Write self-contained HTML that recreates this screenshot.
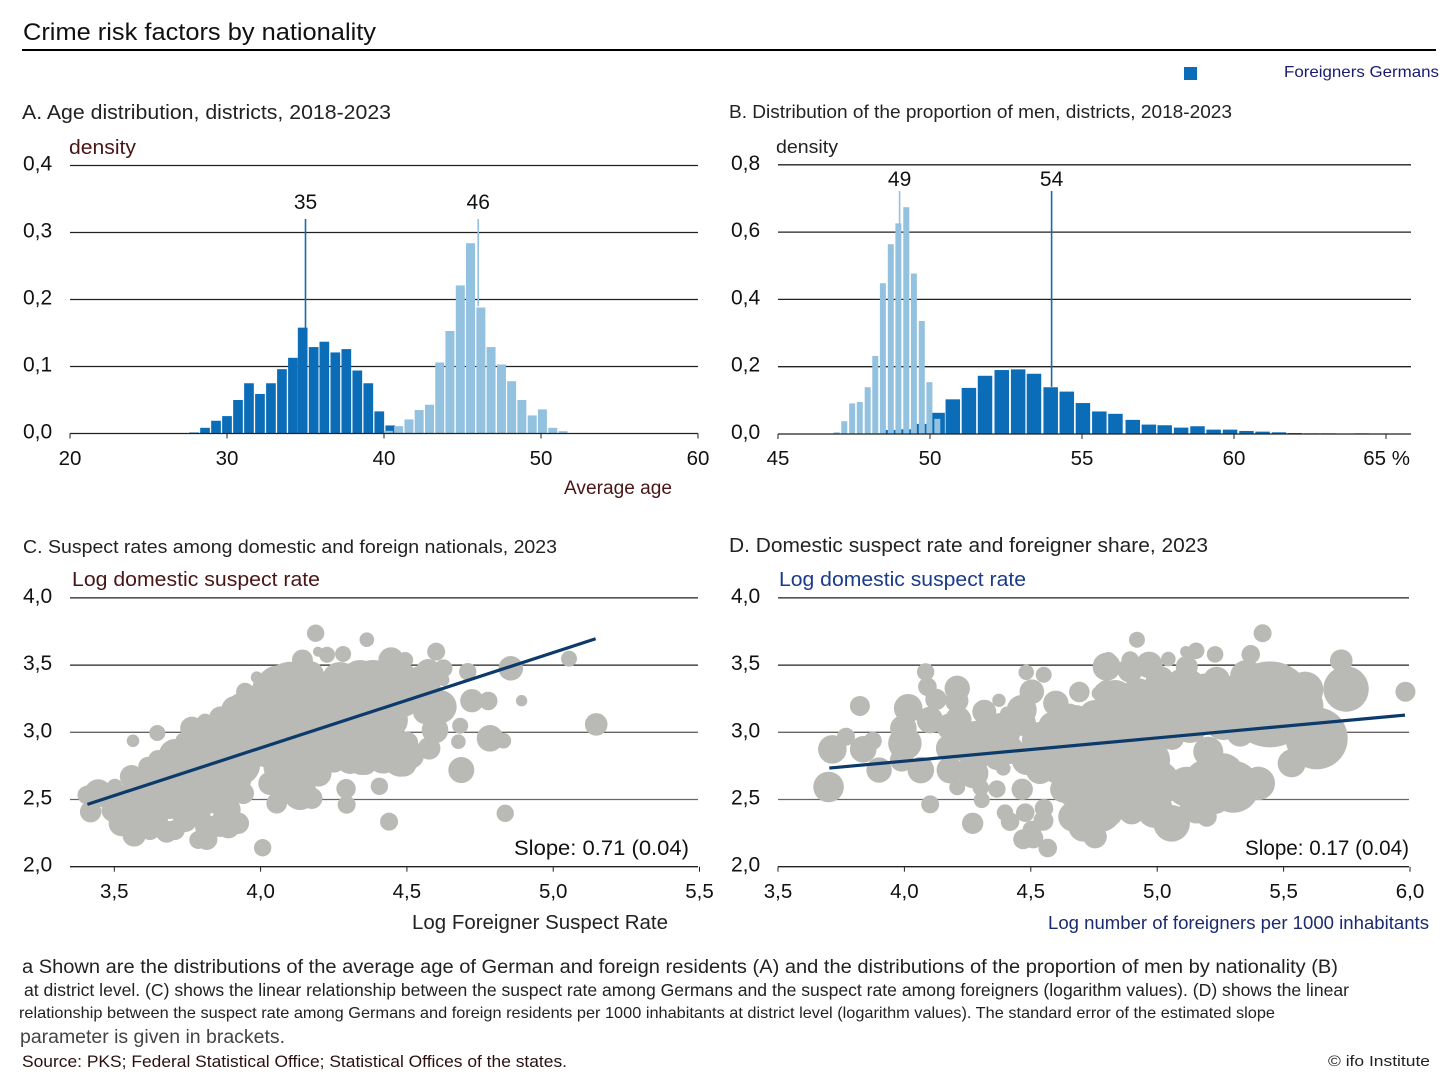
<!DOCTYPE html>
<html lang="en">
<head>
<meta charset="utf-8">
<title>Crime risk factors by nationality</title>
<style>
html,body{margin:0;padding:0;background:#fff}
svg{display:block}
text{font-family:"Liberation Sans",sans-serif}
</style>
</head>
<body>
<svg id="chart" xmlns="http://www.w3.org/2000/svg" width="1456" height="1084" viewBox="0 0 1456 1084">
<rect x="0" y="0" width="1456" height="1084" fill="#fff"/>
<text x="23" y="40" font-size="24" fill="#111" textLength="353" lengthAdjust="spacingAndGlyphs">Crime risk factors by nationality</text>
<rect x="22" y="49" width="1414" height="2" fill="#000"/>
<rect x="1184" y="67" width="13" height="13" fill="#0b6db8"/>
<text x="1284" y="77" font-size="16" fill="#1b1b6e" textLength="155" lengthAdjust="spacingAndGlyphs">Foreigners Germans</text>

<text x="22" y="119" font-size="20" fill="#222" textLength="369" lengthAdjust="spacingAndGlyphs">A. Age distribution, districts, 2018-2023</text>
<text x="69" y="154" font-size="20" fill="#4a1515" textLength="67" lengthAdjust="spacingAndGlyphs">density</text>
<text x="564" y="494" font-size="19" fill="#4a1515" textLength="108" lengthAdjust="spacingAndGlyphs">Average age</text>

<text x="729" y="118" font-size="18.5" fill="#222" textLength="503" lengthAdjust="spacingAndGlyphs">B. Distribution of the proportion of men, districts, 2018-2023</text>
<text x="776" y="153" font-size="18" fill="#222" textLength="62" lengthAdjust="spacingAndGlyphs">density</text>

<text x="23" y="553" font-size="18.5" fill="#222" textLength="534" lengthAdjust="spacingAndGlyphs">C. Suspect rates among domestic and foreign nationals, 2023</text>
<text x="72" y="586" font-size="20" fill="#4a1515" textLength="248" lengthAdjust="spacingAndGlyphs">Log domestic suspect rate</text>
<text x="412" y="929" font-size="20" fill="#222" textLength="256" lengthAdjust="spacingAndGlyphs">Log Foreigner Suspect Rate</text>

<text x="729" y="552" font-size="20" fill="#222" textLength="479" lengthAdjust="spacingAndGlyphs">D. Domestic suspect rate and foreigner share, 2023</text>
<text x="779" y="586" font-size="20" fill="#1a3a8a" textLength="247" lengthAdjust="spacingAndGlyphs">Log domestic suspect rate</text>
<text x="1048" y="929" font-size="18" fill="#1b2a70" textLength="381" lengthAdjust="spacingAndGlyphs">Log number of foreigners per 1000 inhabitants</text>

<g id="plots"></g>

<text x="514" y="855" font-size="21" fill="#111" textLength="175" lengthAdjust="spacingAndGlyphs">Slope: 0.71 (0.04)</text>
<text x="1245" y="855" font-size="21" fill="#111" textLength="164" lengthAdjust="spacingAndGlyphs">Slope: 0.17 (0.04)</text>

<text x="22" y="973" font-size="19" fill="#222" textLength="1316" lengthAdjust="spacingAndGlyphs">a Shown are the distributions of the average age of German and foreign residents (A) and the distributions of the proportion of men by nationality (B)</text>
<text x="24" y="996" font-size="17.5" fill="#222" textLength="1325" lengthAdjust="spacingAndGlyphs">at district level. (C) shows the linear relationship between the suspect rate among Germans and the suspect rate among foreigners (logarithm values). (D) shows the linear</text>
<text x="19" y="1018" font-size="16" fill="#222" textLength="1256" lengthAdjust="spacingAndGlyphs">relationship between the suspect rate among Germans and foreign residents per 1000 inhabitants at district level (logarithm values). The standard error of the estimated slope</text>
<text x="20" y="1043" font-size="19" fill="#444" textLength="265" lengthAdjust="spacingAndGlyphs">parameter is given in brackets.</text>
<text x="22" y="1067" font-size="17" fill="#2a1010" textLength="545" lengthAdjust="spacingAndGlyphs">Source: PKS; Federal Statistical Office; Statistical Offices of the states.</text>
<text x="1328" y="1066" font-size="15" fill="#222" textLength="102" lengthAdjust="spacingAndGlyphs">©  ifo Institute</text>
</svg>

<script>
// Panel A: age distribution
const ageForeignBins = [27.9,28.6,29.3,30,30.7,31.4,32.1,32.8,33.5,34.2,34.82,35.52,36.2,36.9,37.6,38.3,39,39.7,40.4];
const ageForeignDensity = [0.0015,0.0085,0.019,0.026,0.05,0.075,0.059,0.075,0.096,0.113,0.158,0.129,0.137,0.121,0.126,0.094,0.075,0.033,0.012];
const ageGermanBins = [40.28,40.93,41.59,42.24,42.9,43.55,44.2,44.86,45.51,46.17,46.82,47.48,48.13,48.78,49.44,50.09,50.75,51.4];
const ageGermanDensity = [0.004,0.011,0.021,0.035,0.043,0.106,0.153,0.221,0.284,0.188,0.129,0.103,0.078,0.05,0.027,0.036,0.0085,0.0035];
const ageXTicks = [20,30,40,50,60];
const ageYTicks = [0,0.1,0.2,0.3,0.4];
const ageMedians = [35,46];

// Panel B: proportion of men
const menForeignBins = [48.13,48.66,49.2,49.73,50.25,50.75,51.28,51.81,52.36,52.9,53.42,53.97,54.5,55.03,55.57,56.1,56.67,57.2,57.72,58.26,58.8,59.33,59.87,60.41,60.94,61.48,62,62.55,63.1,63.6,64.2];
const menForeignDensity = [0.002,0.012,0.014,0.03,0.063,0.103,0.137,0.173,0.19,0.192,0.179,0.139,0.126,0.092,0.067,0.06,0.042,0.028,0.026,0.019,0.023,0.013,0.013,0.009,0.007,0.005,0.003,0.002,0.002,0.001,0.002];
const menGermanBins = [46.93,47.18,47.44,47.69,47.95,48.2,48.45,48.71,48.96,49.22,49.47,49.73,49.98,50.24];
const menGermanDensity = [0.005,0.038,0.091,0.095,0.139,0.232,0.448,0.564,0.626,0.674,0.477,0.336,0.154,0.045];
const menXTicks = [45,50,55,60,65];
const menYTicks = [0,0.2,0.4,0.6,0.8];
const menMedians = [54,49];

// Panel C: domestic vs foreigner suspect rate
const cForeignRate = [
4.188,4.363,4.196,4.227,4.282,4.143,4.446,4.494,3.647,3.564,
3.987,3.924,3.947,3.864,3.81,3.765,3.736,3.65,3.616,3.559,
3.502,3.445,3.406,3.419,3.497,3.525,3.568,3.599,3.679,3.707,
3.645,3.787,3.816,3.816,3.89,3.924,3.884,3.941,3.747,3.827,
3.667,3.599,3.725,3.838,3.782,3.884,3.953,4.055,4.007,4.032,
4.135,4.175,4.249,4.197,4.078,4.146,4.292,4.294,4.406,4.439,
4.346,4.442,4.488,4.101,4.055,4.169,4.021,4.123,4.306,4.351,
4.442,4.26,4.408,4.488,3.964,4.6,4.573,4.625,4.708,4.855,
5.054,4.892,5.147,4.722,4.778,4.682,4.676,4.784,4.83,4.686,
4.576,4.596,4.562,4.613,4.625,4.477,4.357,4.329,4.419,4.499,
4.385,4.306,4.385,4.511,4.836,4.237,3.964,3.52,
3.485,3.537,3.622,3.707,3.673,3.776,3.878,3.776,3.69,3.622,
3.742,3.861,3.913,3.844,3.93,4.015,3.793,3.93,4.066,4.135,
4.237,4.066,4.203,4.135,4.289,4.323,4.442,4.34,4.477,4.562,
4.271,4.169,4.032,4.545,4.408,4.511,4.306,3.998,3.981,3.913,
4.083,4.135];
const cDomesticRate = [
3.737,3.689,3.6,3.577,3.583,3.538,3.538,3.538,2.995,2.937,
3.409,3.228,3.302,3.104,3.079,3.03,2.937,2.794,2.744,2.67,
2.595,2.546,2.533,2.409,2.422,2.323,2.236,2.372,2.26,2.273,
2.372,2.199,2.204,2.298,2.298,2.323,2.422,2.546,2.521,2.546,
2.571,2.496,2.744,2.744,2.918,2.943,2.818,2.472,2.141,2.62,
2.546,2.509,2.794,2.695,2.744,2.794,2.58,2.461,2.598,2.335,
2.794,2.794,2.769,3.339,3.166,3.166,3.042,2.967,3.389,3.265,
3.339,3.166,3.116,3.24,3.19,3.6,3.451,3.476,3.451,3.476,
3.548,3.235,3.059,3.235,3.233,3.049,2.93,2.955,2.937,2.719,
2.881,3.017,3.151,3.19,3.389,2.794,2.769,2.818,2.818,2.918,
2.967,3.017,3.315,3.339,2.397,2.98,3.017,2.474,
2.533,2.496,2.608,2.831,2.682,2.682,2.645,2.422,2.459,2.273,
2.347,2.31,2.645,2.905,3.017,2.905,2.794,2.757,3.315,3.24,
3.24,2.905,2.905,2.682,2.905,3.091,3.091,3.389,3.389,3.315,
3.389,3.426,3.315,3.389,2.905,2.831,2.794,3.24,3.091,3.166,
2.571,2.608];
const cPopulation = [
210,148,70,178,178,306,448,178,178,110,
100,178,225,400,178,380,178,278,278,380,
178,545,240,318,400,470,380,625,336,278,
380,225,318,380,380,318,545,318,775,1111,
775,775,775,1111,775,775,775,295,210,380,
775,318,448,492,1111,1111,262,225,210,225,
625,448,492,1736,1980,1980,1111,1470,775,1111,
1111,1111,775,775,278,225,448,225,210,420,
178,90,355,380,240,178,148,492,165,470,
355,492,400,775,100,775,380,240,775,380,
1111,775,2500,775,210,1111,1111,400,
278,625,545,712,545,1111,1111,712,545,278,
400,400,712,1345,1345,1345,900,1111,1736,2500,
2180,1736,1736,900,900,1736,900,1111,900,712,
900,545,900,545,1345,545,545,712,1111,545,
278,545];
const cFitX = [3.408,5.145];
const cFitY = [2.464,3.696];
const cXTicks = [3.5,4,4.5,5,5.5];
const rateYTicks = [2,2.5,3,3.5,4];

// Panel D: domestic suspect rate vs foreigners per 1000
const dForeignShare = [
4.084,4.091,4.125,4.209,4.207,4.374,4.316,4.482,4.551,4.504,
4.599,4.692,3.824,4.015,4.101,3.996,4.002,3.989,3.769,3.715,
3.837,3.875,3.9,3.7,4.065,4.102,4.209,4.18,4.273,4.18,
4.18,4.213,4.286,4.326,4.405,4.464,4.405,4.365,4.391,4.484,
4.366,4.302,4.306,4.466,4.27,4.398,4.418,4.478,4.552,4.55,
4.504,4.47,4.51,4.567,4.629,4.668,4.754,4.708,4.603,4.589,
4.754,4.8,4.794,4.761,4.708,4.469,4.655,4.92,5.417,4.807,
4.781,4.893,4.968,4.893,5.044,5.113,5.154,5.229,5.37,5.117,
5.042,4.8,4.767,4.925,5.728,5.747,5.982,5.446,5.585,5.631,
5.532,5.301,5.4,5.262,5.202,5.196,5.156,5.057,5.077,4.899,
4.813,4.761,4.866,4.998,5.117,4.932,4.8,5.064,5.196,5.262,
5.328,5.059,5.235,5.354,5.552,4.813,4.635,
4.24,4.339,4.418,4.536,4.536,4.675,4.734,4.675,4.774,4.893,
4.972,4.853,4.893,5.011,5.11,5.13,5.288,5.367,5.189,5.229,
4.991,4.734,5.011,4.833,4.378,4.279,4.616,4.734];
const dDomesticRate = [
3.449,3.339,3.245,3.327,3.235,3.238,3.153,3.446,3.428,3.302,
3.216,3.3,3.196,3.179,3.091,3.03,2.918,2.794,2.967,2.873,
2.873,2.937,2.719,2.593,2.719,2.464,2.591,2.719,2.695,2.881,
3.042,3.091,2.967,3.017,2.992,3.166,3.141,2.806,2.732,2.794,
2.578,2.588,2.496,2.576,2.323,2.402,2.335,2.402,2.434,2.342,
2.273,2.204,2.211,2.139,2.576,2.372,2.223,2.298,2.744,3.042,
3.116,3.488,3.29,2.62,2.868,3.069,3.144,3.689,3.737,3.538,
3.463,3.538,3.501,3.463,3.545,3.6,3.607,3.58,3.58,3.488,
3.394,3.315,3.29,3.265,3.533,3.322,3.302,3.208,3.315,2.955,
2.769,2.595,2.62,2.695,2.856,2.372,2.446,2.323,2.298,2.409,
2.397,2.223,2.67,2.62,2.595,2.967,3.091,3.116,3.24,3.091,
2.992,2.958,3.389,3.414,3.19,2.794,2.905,
2.905,2.905,2.868,2.943,2.719,3.054,2.719,2.571,2.422,2.571,
2.794,2.905,3.166,3.24,3.315,3.054,3.24,3.129,2.645,2.496,
2.422,2.496,3.389,3.24,3.054,2.831,2.98,2.905];
const dPopulation = [
210,240,318,448,380,125,400,165,178,420,
448,295,278,568,492,492,775,380,225,568,
492,225,448,650,492,225,178,492,625,545,
492,492,712,380,492,625,125,380,148,625,
210,190,178,318,318,190,240,240,240,278,
240,278,278,240,492,625,380,625,775,625,
775,545,380,1111,1111,470,240,178,225,178,
148,210,492,448,148,90,190,190,240,336,
78,278,125,930,355,1430,278,5140,930,2670,
545,1880,775,1111,625,278,775,930,380,448,
448,278,1510,1510,1111,2500,1510,1980,1980,1111,
492,400,492,775,1980,1736,625,
712,545,545,900,545,1111,1345,900,1345,1736,
1111,1736,1345,1736,1345,900,1600,1736,1111,545,
900,900,545,1111,400,712,712,900];
const dFitX = [3.703,5.98];
const dFitY = [2.734,3.128];
const dXTicks = [3.5,4,4.5,5,5.5,6];

// Axis functions
const ageX = v => 70 + (v - 20) * 15.7;
const ageY = v => 433.5 - v * 670;
const menX = v => 778 + (v - 45) * 30.4;
const menY = v => 434 - v * 336.5;
const cX = v => 114.3 + (v - 3.5) * 292.6;
const dX = v => 778 + (v - 3.5) * 252.8;
const rateY = v => 866.7 - (v - 2) * 134.4;
const popR = p => Math.sqrt(p) * 0.6;
const comma = v => v.toFixed(1).replace('.', ',');

const DARK = '#0b6db8', LIGHT = '#93c1e0', GREY = '#b9b9b5', NAVY = '#0b3a6b';
const NS = 'http://www.w3.org/2000/svg';
const root = document.getElementById('plots');
function mk(tag, attrs, txt) {
  const el = document.createElementNS(NS, tag);
  for (const k in attrs) el.setAttribute(k, attrs[k]);
  if (txt !== undefined) el.textContent = txt;
  root.appendChild(el);
  return el;
}
function gridline(y, x1, x2, color) {
  const el = mk('line', {x1: x1, x2: x2, y1: y, y2: y, stroke: color, 'stroke-width': 1.3});
  
  
}
function xTick(x, y) {
  const el = mk('line', {x1: x, x2: x, y1: y, y2: y + 5, stroke: '#222', 'stroke-width': 1});
  
  
}
function xLabel(x, y, s) {
  const el = mk('text', {x: x, y: y, 'text-anchor': 'middle', 'font-size': 20.5, fill: '#111'}, s);
  
  
}
function yLabel(x, y, s) {
  const el = mk('text', {x: x, y: y, 'font-size': 21, fill: '#111'}, s);
  
  
}
function bars(bins, vals, sx, sy, w, color, name) {
  bins.forEach((b, i) => {
    const x0 = sx(b) - w / 2, y0 = sy(vals[i]);
    const el = mk('rect', {x: x0, y: y0, width: w, height: sy(0) - y0, fill: color});
    
    
  });
}
function median(v, sx, top, barBottom, color, labelY) {
  const el = mk('line', {x1: sx(v), x2: sx(v), y1: top, y2: barBottom, stroke: color, 'stroke-width': 1.6});
  
  
  const t = mk('text', {x: sx(v), y: labelY, 'text-anchor': 'middle', 'font-size': 21, fill: '#111'}, String(v));
  
  
}
function scatter(xs, ys, pops, sx, name) {
  xs.forEach((v, i) => {
    const el = mk('circle', {cx: sx(v), cy: rateY(ys[i]), r: popR(pops[i]), fill: GREY});
    
    
  });
}
function fit(xs, ys, sx, name) {
  const el = mk('line', {x1: sx(xs[0]), y1: rateY(ys[0]), x2: sx(xs[1]), y2: rateY(ys[1]), stroke: NAVY, 'stroke-width': 3.2});
  
  
}

// Panel A
ageYTicks.forEach(v => { if (v > 0) gridline(ageY(v), 70, 698, '#222'); yLabel(23, ageY(v) + 5, comma(v)); });
median(ageMedians[0], ageX, 219, ageY(0.15), '#1a6aa8', 209);
median(ageMedians[1], ageX, 219, ageY(0.19), LIGHT, 209);
bars(ageForeignBins, ageForeignDensity, ageX, ageY, 9.7, DARK, 'bar-age-foreigners');
bars(ageGermanBins, ageGermanDensity, ageX, ageY, 9, LIGHT, 'bar-age-germans');
gridline(ageY(0), 70, 698, '#222');
ageXTicks.forEach(v => { xTick(ageX(v), ageY(0)); xLabel(ageX(v), 465, String(v)); });

// Panel B
menYTicks.forEach(v => { if (v > 0) gridline(menY(v), 778, 1411, '#222'); yLabel(731, menY(v) + 5, comma(v)); });
median(menMedians[0], menX, 191, menY(0.14), '#1a6aa8', 186);
median(menMedians[1], menX, 191, menY(0.62), LIGHT, 186);
bars(menForeignBins, menForeignDensity, menX, menY, 14.5, DARK, 'bar-men-foreigners');
bars(menGermanBins, menGermanDensity, menX, menY, 6, LIGHT, 'bar-men-germans');
gridline(menY(0), 778, 1411, '#222');
menXTicks.forEach(v => {
  xTick(menX(v), menY(0));
  if (v === 65) {
    const el = mk('text', {x: 1410, y: 465, 'text-anchor': 'end', 'font-size': 20.5, fill: '#111'}, '65 %');
    
    
  } else xLabel(menX(v), 465, String(v));
});

// Panel C
rateYTicks.forEach(v => { gridline(rateY(v), 70, 698, (v >= 3.5 || v === 2) ? '#222' : '#666'); yLabel(23, rateY(v) + 5, comma(v)); });
scatter(cForeignRate, cDomesticRate, cPopulation, cX, 'district-point-c');
fit(cFitX, cFitY, cX, 'regression-line-c');
cXTicks.forEach(v => { xTick(cX(v), rateY(2)); xLabel(cX(v), 898, comma(v)); });

// Panel D
rateYTicks.forEach(v => { gridline(rateY(v), 778, 1409, (v >= 3.5 || v === 2) ? '#222' : '#666'); yLabel(731, rateY(v) + 5, comma(v)); });
scatter(dForeignShare, dDomesticRate, dPopulation, dX, 'district-point-d');
fit(dFitX, dFitY, dX, 'regression-line-d');
dXTicks.forEach(v => { xTick(dX(v), rateY(2)); xLabel(dX(v), 898, comma(v)); });
</script>
</body>
</html>
